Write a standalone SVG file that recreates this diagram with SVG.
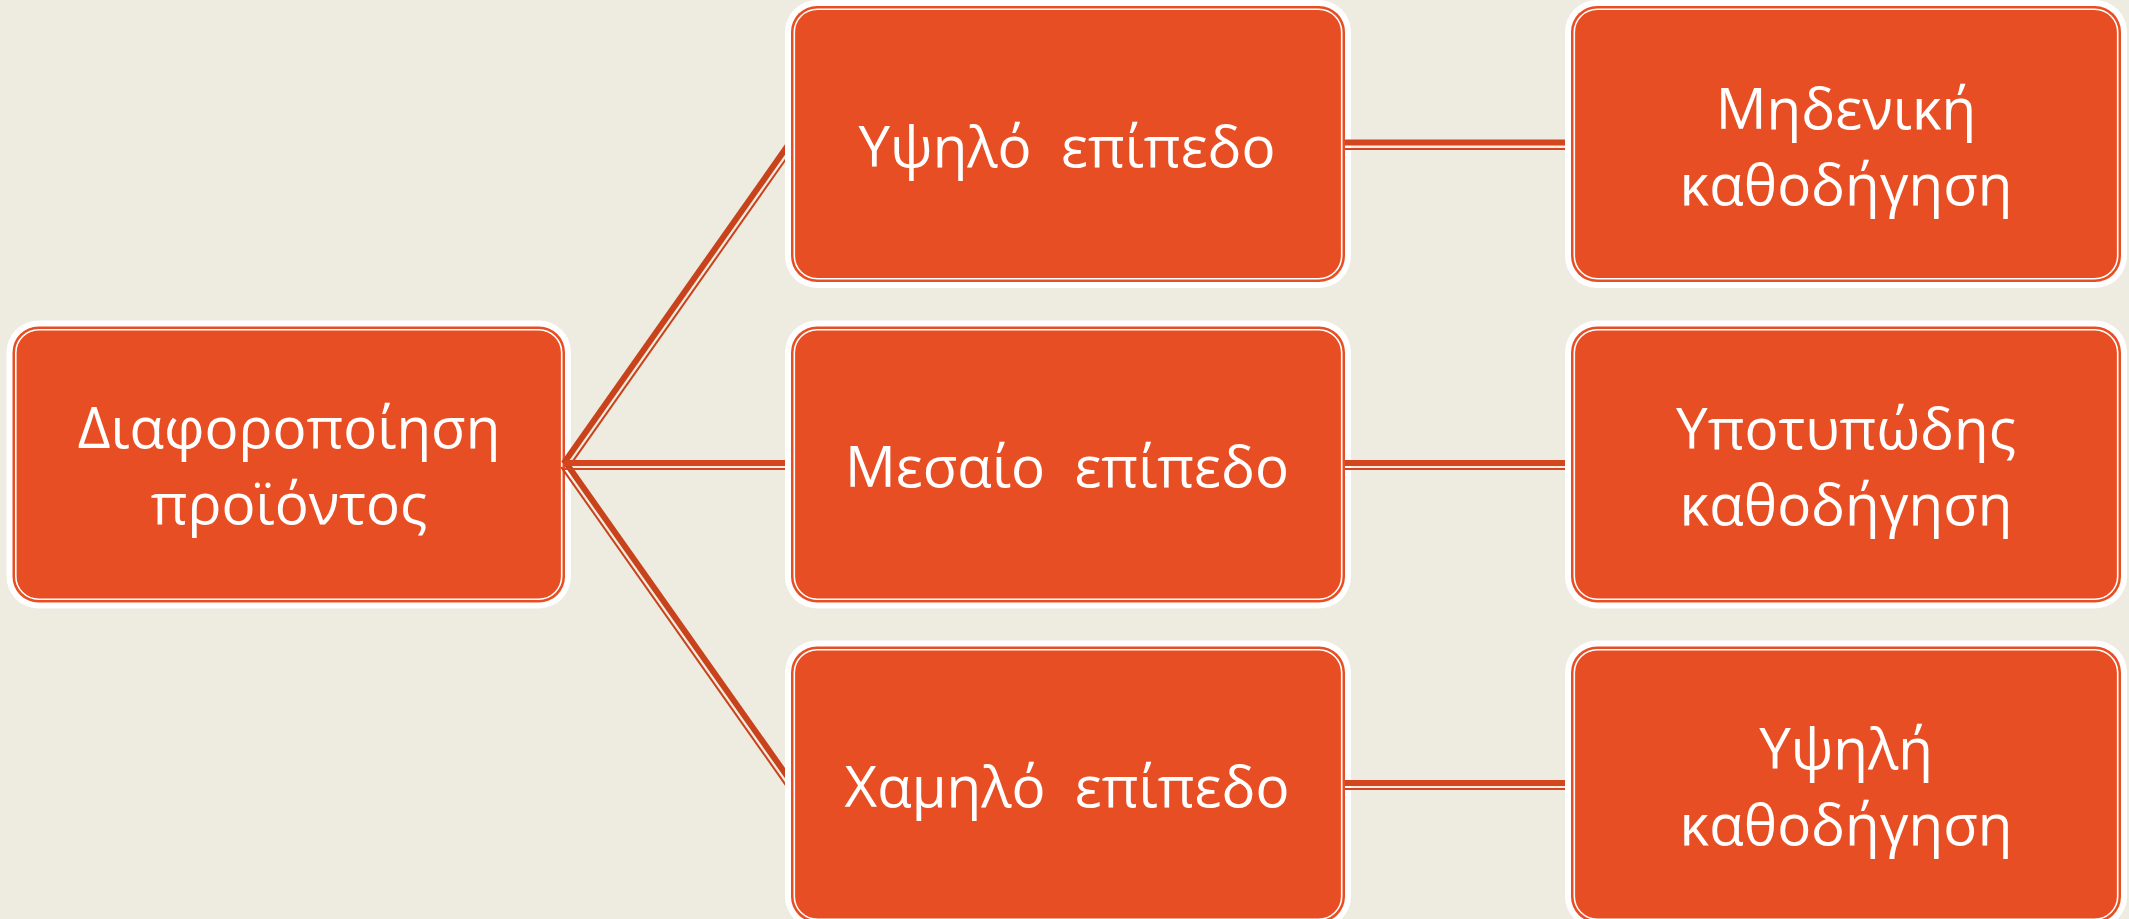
<svg xmlns="http://www.w3.org/2000/svg" width="2129" height="919" viewBox="0 0 2129 919">
<style>
.bg{fill:#EEEBE0}
.halo{fill:#FFFFFF}
.box{fill:#E84E23}
.inl{fill:none;stroke:#FFFFFF;stroke-width:1.6}
.t{fill:#FFFFFF;font-family:"Open Sans","Noto Sans","DejaVu Sans",sans-serif;font-size:56.5px;text-anchor:middle;white-space:pre}
.thick{stroke:#C8431C;stroke-width:6;fill:none}
.thin{stroke:#C8431C;stroke-width:2;fill:none}
.hthick{stroke:#D3461F;stroke-width:6;fill:none}
.hthin{stroke:#D3461F;stroke-width:2;fill:none}
</style>
<defs>
<clipPath id="clipL"><rect x="560" y="0" width="225" height="919"/></clipPath>
</defs>
<rect class="bg" x="0" y="0" width="2129" height="919"/>

<g id="node-diaforopoiisi">
<rect class="halo" x="6.5" y="320.5" width="564.5" height="288" rx="32"/>
<rect class="box" x="12.5" y="326.5" width="552.5" height="276" rx="26"/>
<rect class="inl" x="15.8" y="329.8" width="545.9" height="269.4" rx="23"/>
<text class="t" x="289" y="448">Διαφοροποίηση</text>
<text class="t" x="289" y="524">προϊόντος</text>
</g>

<g id="node-ypsilo">
<rect class="halo" x="785" y="0" width="566" height="288" rx="32"/>
<rect class="box" x="791" y="6" width="554" height="276" rx="26"/>
<rect class="inl" x="794.3" y="9.3" width="547.4" height="269.4" rx="23"/>
<text class="t" x="1067" y="167">Υψηλό  επίπεδο</text>
</g>

<g id="node-mesaio">
<rect class="halo" x="785" y="320.5" width="566" height="288" rx="32"/>
<rect class="box" x="791" y="326.5" width="554" height="276" rx="26"/>
<rect class="inl" x="794.3" y="329.8" width="547.4" height="269.4" rx="23"/>
<text class="t" x="1067" y="487">Μεσαίο  επίπεδο</text>
</g>

<g id="node-xamilo">
<rect class="halo" x="785" y="640.5" width="566" height="288" rx="32"/>
<rect class="box" x="791" y="646.5" width="554" height="276" rx="26"/>
<rect class="inl" x="794.3" y="649.8" width="547.4" height="269.4" rx="23"/>
<text class="t" x="1067" y="807">Χαμηλό  επίπεδο</text>
</g>

<g id="node-mideniki">
<rect class="halo" x="1565" y="0" width="562" height="288" rx="32"/>
<rect class="box" x="1571" y="6" width="550" height="276" rx="26"/>
<rect class="inl" x="1574.3" y="9.3" width="543.4" height="269.4" rx="23"/>
<text class="t" x="1846" y="129">Μηδενική</text>
<text class="t" x="1846" y="205">καθοδήγηση</text>
</g>

<g id="node-ypotypodis">
<rect class="halo" x="1565" y="320.5" width="562" height="288" rx="32"/>
<rect class="box" x="1571" y="326.5" width="550" height="276" rx="26"/>
<rect class="inl" x="1574.3" y="329.8" width="543.4" height="269.4" rx="23"/>
<text class="t" x="1846" y="449">Υποτυπώδης</text>
<text class="t" x="1846" y="525">καθοδήγηση</text>
</g>

<g id="node-ypsili">
<rect class="halo" x="1565" y="640.5" width="562" height="288" rx="32"/>
<rect class="box" x="1571" y="646.5" width="550" height="276" rx="26"/>
<rect class="inl" x="1574.3" y="649.8" width="543.4" height="269.4" rx="23"/>
<text class="t" x="1846" y="769">Υψηλή</text>
<text class="t" x="1846" y="845">καθοδήγηση</text>
</g>

<g id="connectors">
<g clip-path="url(#clipL)">
<line class="thick" x1="563.6" y1="463.6" x2="795.4" y2="134.8"/>
<line class="thin" x1="568.7" y1="467.2" x2="800.5" y2="138.4"/>
<line class="thick" x1="566.4" y1="463.6" x2="798.2" y2="791.8"/>
<line class="thin" x1="561.3" y1="467.2" x2="793.1" y2="795.4"/>
<line class="hthick" x1="565" y1="462.9" x2="790" y2="462.9"/>
<line class="hthin" x1="565" y1="469.1" x2="790" y2="469.1"/>
</g>
<line class="hthick" x1="1345" y1="142.5" x2="1565" y2="142.5"/>
<line class="hthin" x1="1345" y1="149" x2="1565" y2="149"/>
<line class="hthick" x1="1345" y1="462.9" x2="1565" y2="462.9"/>
<line class="hthin" x1="1345" y1="469.1" x2="1565" y2="469.1"/>
<line class="hthick" x1="1345" y1="782.9" x2="1565" y2="782.9"/>
<line class="hthin" x1="1345" y1="789.1" x2="1565" y2="789.1"/>
</g>
</svg>
